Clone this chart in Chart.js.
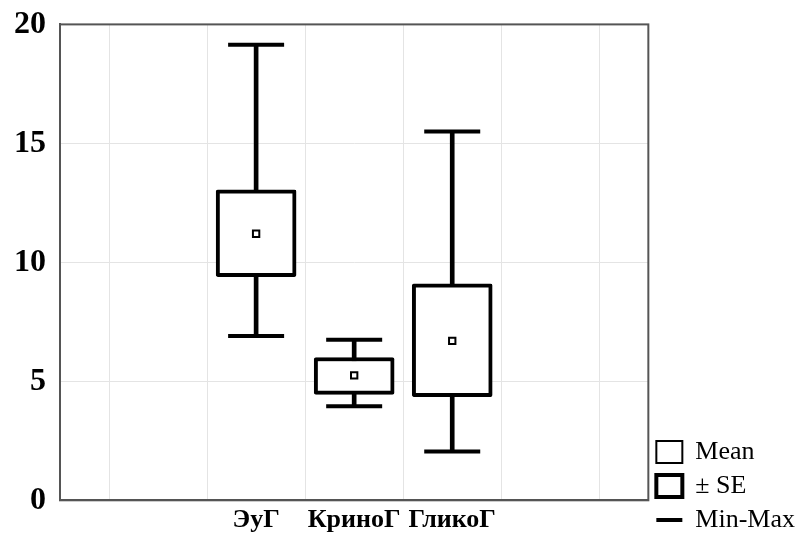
<!DOCTYPE html>
<html>
<head>
<meta charset="utf-8">
<script src="https://cdn.jsdelivr.net/npm/chart.js@4/dist/chart.umd.min.js"></script>
<style>
  html, body { margin: 0; padding: 0; background: #ffffff; }
  #wrap { width: 796px; height: 541px; }
</style>
</head>
<body>
<div id="wrap"><canvas id="box-chart"></canvas></div>
<script>
// groups and their statistics
const categories = ['ЭуГ', 'КриноГ', 'ГликоГ'];
const catPos = [2, 3, 4];
const means = [11.2, 5.25, 6.7];
const seLow = [9.4, 4.45, 4.35];
const seHigh = [13.05, 6.0, 9.1];
const minVals = [6.9, 3.95, 2.05];
const maxVals = [19.15, 6.75, 15.5];
const yTicks = [0, 5, 10, 15, 20];

const serif = '"Liberation Serif", "DejaVu Serif", serif';

const boxData = catPos.map((x, i) => ({ x: x, y: [seLow[i], seHigh[i]] }));
const stemData = catPos.map((x, i) => ({ x: x, y: [minVals[i], maxVals[i]] }));
const meanData = catPos.map((x, i) => ({ x: x, y: means[i] }));
const capData = [];
catPos.forEach((x, i) => {
  capData.push({ x: x, y: maxVals[i] });
  capData.push({ x: x, y: minVals[i] });
});

// frame round the plot area
const framePlugin = {
  id: 'frame',
  afterDatasetsDraw(chart) {
    const a = chart.chartArea;
    const ctx = chart.ctx;
    ctx.save();
    ctx.strokeStyle = '#555555';
    ctx.lineWidth = 2;
    ctx.strokeRect(a.left, a.top, a.right - a.left, a.bottom - a.top);
    ctx.restore();
  }
};

const ctx = document.getElementById('box-chart').getContext('2d');

new Chart(ctx, {
  type: 'bar',
  data: {
    datasets: [
      {
        type: 'scatter',
        label: 'Mean',
        data: meanData,
        pointStyle: 'rect',
        pointRadius: 4.5,
        pointHoverRadius: 4.5,
        backgroundColor: '#ffffff',
        borderColor: '#000000',
        borderWidth: 2,
        order: 0,
      },
      {
        label: '± SE',
        data: boxData,
        backgroundColor: '#ffffff',
        borderColor: '#000000',
        borderWidth: 4,
        borderSkipped: false,
        borderRadius: 2,
        barThickness: 80,
        grouped: false,
        pointStyle: 'rect',
        order: 1,
      },
      {
        type: 'scatter',
        label: 'Min-Max',
        data: capData,
        pointStyle: 'line',
        pointRadius: 28,
        pointHoverRadius: 28,
        borderColor: '#000000',
        borderWidth: 4,
        order: 2,
      },
      {
        label: 'stem',
        data: stemData,
        backgroundColor: '#000000',
        borderWidth: 0,
        barThickness: 4,
        grouped: false,
        order: 3,
      },
    ],
  },
  options: {
    responsive: true,
    maintainAspectRatio: false,
    animation: false,
    layout: {
      autoPadding: false,
      padding: { top: 0, left: 0, right: -9, bottom: 0 },
    },
    plugins: {
      tooltip: { enabled: false },
      legend: {
        position: 'right',
        align: 'end',
        labels: {
          usePointStyle: true,
          pointStyleWidth: 26,
          boxWidth: 22,
          boxHeight: 22,
          padding: 8,
          color: '#000000',
          font: { family: serif, size: 26, lineHeight: 0.92 },
          filter: (item) => item.text !== 'stem',
          sort: (a, b) => a.datasetIndex - b.datasetIndex,
        },
      },
    },
    scales: {
      x: {
        type: 'linear',
        min: 0,
        max: 6,
        offset: false,
        grid: { color: '#e4e4e4', lineWidth: 1, drawTicks: false },
        border: { color: '#555555', width: 2 },
        ticks: {
          stepSize: 1,
          padding: 8,
          autoSkip: false,
          maxRotation: 0,
          minRotation: 0,
          color: '#000000',
          font: { family: serif, size: 26, weight: 'bold', lineHeight: 0.95 },
          callback: (v) => {
            const i = catPos.indexOf(v);
            return i >= 0 ? categories[i] : '';
          },
        },
      },
      y: {
        min: yTicks[0],
        max: yTicks[yTicks.length - 1],
        grid: { color: '#e4e4e4', lineWidth: 1, drawTicks: false },
        border: { color: '#555555', width: 2 },
        ticks: {
          stepSize: 5,
          padding: 14,
          color: '#000000',
          font: { family: serif, size: 32, weight: 'bold', lineHeight: 0.65 },
        },
      },
    },
  },
  plugins: [framePlugin],
});
</script>
</body>
</html>
